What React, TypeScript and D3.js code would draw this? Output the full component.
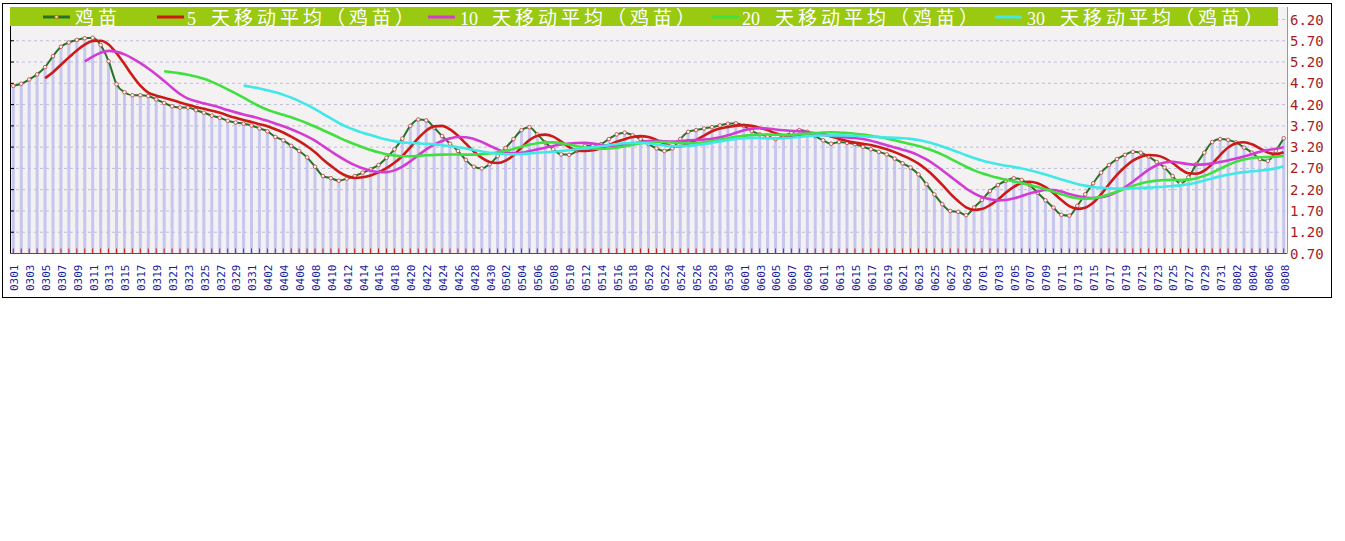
import React from 'react';
import * as d3 from 'd3';

// ---- data ----
const startDate = new Date(2011, 2, 1);
const endDate = new Date(2011, 7, 9);
const dates: string[] = d3.timeDay.range(startDate, endDate).map(d3.timeFormat('%m%d'));

const price: number[] = [
  4.64, 4.69, 4.79, 4.91, 5.08, 5.34, 5.56, 5.66, 5.72, 5.76,
  5.77, 5.60, 5.22, 4.68, 4.49, 4.42, 4.42, 4.40, 4.32, 4.24,
  4.16, 4.13, 4.13, 4.07, 4.01, 3.94, 3.89, 3.82, 3.78, 3.75,
  3.71, 3.64, 3.57, 3.44, 3.36, 3.23, 3.11, 2.96, 2.74, 2.52,
  2.47, 2.41, 2.46, 2.52, 2.60, 2.68, 2.78, 2.95, 3.15, 3.40,
  3.70, 3.85, 3.83, 3.66, 3.46, 3.28, 3.11, 2.90, 2.74, 2.70,
  2.80, 2.99, 3.18, 3.39, 3.60, 3.67, 3.50, 3.31, 3.15, 3.03,
  3.02, 3.11, 3.23, 3.24, 3.27, 3.39, 3.50, 3.54, 3.48, 3.39,
  3.27, 3.17, 3.11, 3.17, 3.39, 3.56, 3.60, 3.64, 3.67, 3.71,
  3.75, 3.76, 3.70, 3.58, 3.50, 3.46, 3.39, 3.46, 3.54, 3.60,
  3.56, 3.46, 3.36, 3.28, 3.32, 3.30, 3.27, 3.21, 3.15, 3.09,
  3.03, 2.93, 2.82, 2.72, 2.56, 2.33, 2.09, 1.86, 1.70, 1.68,
  1.60, 1.78, 1.96, 2.17, 2.31, 2.41, 2.47, 2.43, 2.31, 2.13,
  1.95, 1.78, 1.61, 1.59, 1.82, 2.09, 2.35, 2.60, 2.78, 2.92,
  3.02, 3.09, 3.07, 2.98, 2.85, 2.72, 2.52, 2.35, 2.49, 2.80,
  3.07, 3.32, 3.39, 3.37, 3.31, 3.19, 3.07, 2.92, 2.88, 3.11, 3.41,
];

const maWindows: number[] = [5, 10, 20, 30];
const maColors: string[] = ['#cc1a1a', '#d23cd2', '#40e040', '#40e8e8'];
const legendNumbers: string[] = ['', '5 ', '10 ', '20 ', '30 '];
const legendNames: string[] = ['鸡苗', '天移动平均（鸡苗）', '天移动平均（鸡苗）', '天移动平均（鸡苗）', '天移动平均（鸡苗）'];
const legendLineX: number[] = [43, 157, 428, 712, 995];
const legendNumX: number[] = [0, 187, 460, 742, 1027];
const legendNameX: number[] = [75, 211, 492, 775, 1060];
const yTicks: number[] = [6.2, 5.7, 5.2, 4.7, 4.2, 3.7, 3.2, 2.7, 2.2, 1.7, 1.2, 0.7];

function movingAverage(n: number): [number, number][] {
  const out: [number, number][] = [];
  for (let i = n - 1; i < price.length; i++) {
    out.push([i, d3.mean(price.slice(i - n + 1, i + 1)) as number]);
  }
  return out;
}

export default function App() {
  const W = 1345, H = 541;
  const left = 10, right = 1287, top = 7, bottom = 253.5;
  const x = d3.scaleLinear().domain([0, price.length - 1]).range([13.3, 1283.7]);
  const y = d3.scaleLinear().domain([0.7, 6.2]).range([bottom, 19.5]);
  const line = d3.line<[number, number]>()
    .x(d => x(d[0]))
    .y(d => y(d[1]))
    .curve(d3.curveMonotoneX);
  const baseData: [number, number][] = price.map((v, i) => [i, v]);

  return (
    <svg width={W} height={H} style={{ position: 'absolute', left: 0, top: 0, background: '#fff' }}>
      <rect x={2.5} y={3.5} width={1329} height={294} fill="#fff" stroke="#000" strokeWidth={1} />
      {/* plot background */}
      <rect x={left} y={top} width={right - left} height={bottom - top} fill="#f3f1f1" />
      {/* bars */}
      {price.map((v, i) => (
        <rect key={'b' + i} x={x(i) - 1.5} y={y(v)} width={3} height={bottom - y(v)} fill="#c6c6f0" />
      ))}
      {/* gridlines */}
      {yTicks.slice(0, -1).map((t, i) => (
        <line key={'g' + i} x1={left} x2={right} y1={y(t)} y2={y(t)} stroke="#bdbddd" strokeDasharray="3,3" strokeWidth={1} />
      ))}
      {/* left axis */}
      <line x1={left + 0.5} x2={left + 0.5} y1={top} y2={bottom} stroke="#000" />
      {yTicks.slice(0, -1).map((t, i) => (
        <line key={'lt' + i} x1={left} x2={left + 4} y1={y(t)} y2={y(t)} stroke="#000" />
      ))}
      {/* right border */}
      <line x1={right + 0.5} x2={right + 0.5} y1={top} y2={bottom} stroke="#999" />
      {/* bottom axis */}
      <line x1={left} x2={right} y1={bottom} y2={bottom} stroke="#c02020" strokeWidth={1} />
      {price.map((v, i) => (
        <line key={'t' + i} x1={x(i)} x2={x(i)} y1={bottom - 5} y2={bottom} stroke="#c02020" strokeWidth={1} />
      ))}
      {/* base series */}
      <path d={line(baseData) || ''} fill="none" stroke="#267326" strokeWidth={2} />
      {price.map((v, i) => (
        <circle key={'m' + i} cx={x(i)} cy={y(v)} r={1.8} fill="#fff4f4" stroke="#c05050" strokeWidth={0.9} />
      ))}
      {/* moving averages */}
      {maWindows.map((n, k) => (
        <path key={'ma' + n} d={line(movingAverage(n)) || ''} fill="none" stroke={maColors[k]} strokeWidth={2.6} />
      ))}
      {/* legend bar */}
      <rect x={left} y={top} width={1268} height={19} fill="#99c910" />
      {legendNames.map((lab, k) => (
        <g key={'lg' + k}>
          <line x1={legendLineX[k]} x2={legendLineX[k] + 27} y1={17} y2={17}
            stroke={k === 0 ? '#267326' : maColors[k - 1]} strokeWidth={3} />
          {k === 0 && <circle cx={legendLineX[k] + 13.5} cy={17} r={1.8} fill="#f0e040" stroke="#c05050" strokeWidth={0.8} />}
          <text y={24.5} fill="#fff">
            {k > 0 && (
              <tspan x={legendNumX[k]} fontSize={18} fontFamily="'Liberation Serif', serif">{legendNumbers[k]}</tspan>
            )}
            <tspan x={legendNameX[k]} fontSize={19} letterSpacing={4}
              fontFamily="'Noto Sans CJK SC', sans-serif">{lab}</tspan>
          </text>
        </g>
      ))}
      {/* right axis labels */}
      {yTicks.map((t, i) => (
        <text key={'yl' + i} x={1290} y={y(t) + 5} fill="#a81c1c" fontSize={14}
          fontFamily="'DejaVu Sans Mono', monospace">{t.toFixed(2)}</text>
      ))}
      {/* x labels */}
      {dates.map((d, i) => (i % 2 === 0 ? (
        <text key={'xl' + i} transform={`translate(${x(i) + 1},291) rotate(-90)`} dy="0.35em"
          fill="#1c1c9c" fontSize={11} fontFamily="'DejaVu Sans Mono', monospace">{d}</text>
      ) : null))}
    </svg>
  );
}
